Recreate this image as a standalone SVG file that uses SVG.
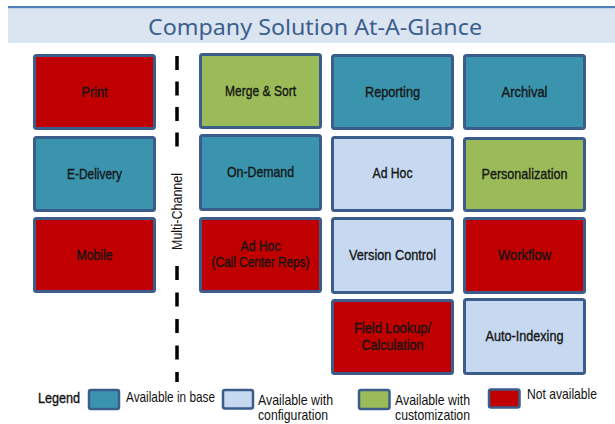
<svg xmlns="http://www.w3.org/2000/svg" width="615" height="424" viewBox="0 0 615 424">
<style>
.box{stroke:#3a5d8c;stroke-width:3}
.sw{stroke:#3a5d8c;stroke-width:2.5}
.base{fill:#3b94ae}
.cfg{fill:#c6d9f1}
.cus{fill:#9bbb59}
.na{fill:#c00000}
.lbl{font-family:'Liberation Sans Narrow','Liberation Sans',sans-serif;font-size:15px;fill:#141414;stroke:#141414;stroke-width:0.35;text-anchor:middle}
.leg{font-family:'Liberation Sans Narrow','Liberation Sans',sans-serif;font-size:14.5px;fill:#111}
.title{font-family:'Noto Sans','Open Sans',sans-serif;font-size:22px;fill:#3b5f8f;text-anchor:middle}
</style>
<rect x="8" y="6" width="607" height="2.5" fill="#4f81bd"/>
<rect x="8" y="8.5" width="607" height="34.5" fill="#dbe5f1"/>
<text class="title" x="315" y="35" textLength="334" lengthAdjust="spacingAndGlyphs">Company Solution At-A-Glance</text>

<g id="connectors">
<line x1="177" y1="56" x2="177" y2="148" stroke="#000" stroke-width="3.5" stroke-dasharray="14 11.5"/>
<line x1="177" y1="266" x2="177" y2="382" stroke="#000" stroke-width="3.5" stroke-dasharray="14 12.5"/>
</g>
<text class="leg" transform="translate(181.5,211.5) rotate(-90)" text-anchor="middle" font-size="13" textLength="77" lengthAdjust="spacingAndGlyphs">Multi-Channel</text>

<g id="print"><rect class="box na" x="34.5" y="55.5" width="120" height="73" rx="2"/><text class="lbl" x="94.5" y="97" textLength="26" lengthAdjust="spacingAndGlyphs">Print</text></g>
<g id="edelivery"><rect class="box base" x="34.5" y="137.5" width="120" height="73" rx="2"/><text class="lbl" x="94.5" y="178.5" textLength="55" lengthAdjust="spacingAndGlyphs">E-Delivery</text></g>
<g id="mobile"><rect class="box na" x="34.5" y="218.5" width="120" height="73" rx="2"/><text class="lbl" x="94.5" y="259.5" textLength="36" lengthAdjust="spacingAndGlyphs">Mobile</text></g>

<g id="merge"><rect class="box cus" x="200.5" y="54.5" width="120" height="73" rx="2"/><text class="lbl" x="260.5" y="96" textLength="71" lengthAdjust="spacingAndGlyphs">Merge &amp; Sort</text></g>
<g id="ondemand"><rect class="box base" x="200.5" y="135.5" width="120" height="74" rx="2"/><text class="lbl" x="260.5" y="177" textLength="67" lengthAdjust="spacingAndGlyphs">On-Demand</text></g>
<g id="adhoc-cc"><rect class="box na" x="200.5" y="218.5" width="120" height="73" rx="2"/><text class="lbl" x="260.5" y="250.5" textLength="40" lengthAdjust="spacingAndGlyphs">Ad Hoc</text><text class="lbl" x="260.5" y="267" textLength="98" lengthAdjust="spacingAndGlyphs">(Call Center Reps)</text></g>

<g id="reporting"><rect class="box base" x="332.5" y="55.5" width="120" height="73" rx="2"/><text class="lbl" x="392.5" y="97" textLength="55" lengthAdjust="spacingAndGlyphs">Reporting</text></g>
<g id="adhoc"><rect class="box cfg" x="332.5" y="137.5" width="120" height="73" rx="2"/><text class="lbl" x="392.5" y="178" textLength="40" lengthAdjust="spacingAndGlyphs">Ad Hoc</text></g>
<g id="version"><rect class="box cfg" x="332.5" y="218.5" width="120" height="74" rx="2"/><text class="lbl" x="392.5" y="260" textLength="87" lengthAdjust="spacingAndGlyphs">Version Control</text></g>
<g id="fieldlookup"><rect class="box na" x="332.5" y="300.5" width="120" height="73" rx="2"/><text class="lbl" x="392.5" y="333" textLength="77" lengthAdjust="spacingAndGlyphs">Field Lookup/</text><text class="lbl" x="392.5" y="350" textLength="62" lengthAdjust="spacingAndGlyphs">Calculation</text></g>

<g id="archival"><rect class="box base" x="464.5" y="55.5" width="120" height="73" rx="2"/><text class="lbl" x="524.5" y="97" textLength="46" lengthAdjust="spacingAndGlyphs">Archival</text></g>
<g id="personalization"><rect class="box cus" x="464.5" y="138.5" width="120" height="72" rx="2"/><text class="lbl" x="524.5" y="179" textLength="86" lengthAdjust="spacingAndGlyphs">Personalization</text></g>
<g id="workflow"><rect class="box na" x="464.5" y="218.5" width="120" height="74" rx="2"/><text class="lbl" x="524.5" y="260" textLength="53" lengthAdjust="spacingAndGlyphs">Workflow</text></g>
<g id="autoindexing"><rect class="box cfg" x="464.5" y="299.5" width="120" height="74" rx="2"/><text class="lbl" x="524.5" y="341" textLength="78" lengthAdjust="spacingAndGlyphs">Auto-Indexing</text></g>

<g id="legend">
<text class="leg" x="38" y="402.5" textLength="42" lengthAdjust="spacingAndGlyphs" font-size="14" stroke="#111" stroke-width="0.35">Legend</text>
<rect class="sw base" x="89" y="390" width="30" height="19" rx="2"/>
<text class="leg" x="126" y="402" textLength="89" lengthAdjust="spacingAndGlyphs">Available in base</text>
<rect class="sw cfg" x="223" y="390" width="30" height="18.5" rx="2"/>
<text class="leg" x="258" y="405" textLength="75" lengthAdjust="spacingAndGlyphs">Available with</text>
<text class="leg" x="258" y="420" textLength="70" lengthAdjust="spacingAndGlyphs">configuration</text>
<rect class="sw cus" x="359" y="390" width="30.5" height="19" rx="2"/>
<text class="leg" x="395" y="405" textLength="75" lengthAdjust="spacingAndGlyphs">Available with</text>
<text class="leg" x="395" y="420" textLength="75" lengthAdjust="spacingAndGlyphs">customization</text>
<rect class="sw na" x="489" y="389.5" width="30.5" height="18" rx="2"/>
<text class="leg" x="527" y="399" textLength="70" lengthAdjust="spacingAndGlyphs">Not available</text>
</g>
</svg>
